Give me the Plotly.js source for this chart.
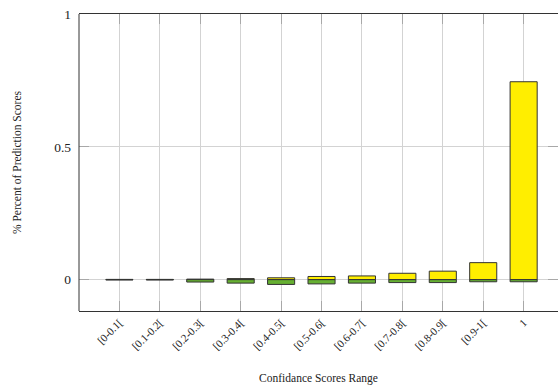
<!DOCTYPE html>
<html>
<head>
<meta charset="utf-8">
<script src="https://cdn.plot.ly/plotly-3.0.1.min.js"></script>
<style>
  html, body { margin: 0; padding: 0; background: #fff; }
  #chart { width: 558px; height: 385px; }
</style>
</head>
<body>
<div id="chart"></div>
<script>
// Confidence score bins
const categories = ['[0-0.1[', '[0.1-0.2[', '[0.2-0.3[', '[0.3-0.4[', '[0.4-0.5[',
                    '[0.5-0.6[', '[0.6-0.7[', '[0.7-0.8[', '[0.8-0.9[', '[0.9-1[', '1'];

// Share of prediction scores above the axis (yellow) and below it (green)
const upperShare = [0.001, 0.001, 0.002, 0.004, 0.007, 0.012, 0.014, 0.024, 0.032, 0.064, 0.745];
const lowerShare = [-0.001, -0.001, -0.009, -0.013, -0.018, -0.016, -0.013, -0.011, -0.011, -0.008, -0.008];

const yTickVals = [0, 0.5, 1];
const yTickText = ['0', '0.5', '1'];

const serif = 'Liberation Serif, DejaVu Serif, serif';
const outline = { color: '#333333', width: 1 };

const traces = [
  {
    type: 'bar', x: categories, y: upperShare, width: 0.67,
    marker: { color: '#ffee00', line: outline },
    hoverinfo: 'x+y'
  },
  {
    type: 'bar', x: categories, y: lowerShare, width: 0.67,
    marker: { color: '#66b032', line: outline },
    hoverinfo: 'x+y'
  }
];

const layout = {
  width: 558, height: 385,
  margin: { l: 79, r: 0, t: 14, b: 74 },
  paper_bgcolor: '#ffffff', plot_bgcolor: '#ffffff',
  barmode: 'relative',
  showlegend: false,
  font: { family: serif, color: '#222222' },
  xaxis: {
    type: 'category',
    range: [-1, 10.85],
    showgrid: true, gridcolor: '#d3d3d3', gridwidth: 1,
    showline: true, linecolor: '#333333', linewidth: 1,
    mirror: 'ticks',
    ticks: 'inside', ticklen: 10, tickcolor: '#a8a8a8', tickwidth: 1,
    tickangle: -45,
    tickfont: { family: serif, size: 11, color: '#222222' },
    title: { text: 'Confidance Scores Range', font: { family: serif, size: 11.5, color: '#222222' }, standoff: 26 },
    zeroline: false, fixedrange: true
  },
  yaxis: {
    range: [-0.118, 1],
    tickvals: yTickVals, ticktext: yTickText,
    showgrid: true, gridcolor: '#d3d3d3', gridwidth: 1,
    showline: false,
    mirror: 'ticks',
    ticks: 'inside', ticklen: 10, tickcolor: '#a8a8a8', tickwidth: 1,
    ticklabelstandoff: 7,
    tickfont: { family: serif, size: 13.5, color: '#222222' },
    title: { text: '% Percent of Prediction Scores', font: { family: serif, size: 11.5, color: '#222222' }, standoff: 30 },
    zeroline: false, fixedrange: true
  },
  shapes: [
    { type: 'line', xref: 'paper', yref: 'paper', x0: 0, x1: 0, y0: 0, y1: 1,
      line: { color: '#333333', width: 1 } }
  ]
};

Plotly.newPlot('chart', traces, layout, { staticPlot: true, displayModeBar: false });
</script>
</body>
</html>
